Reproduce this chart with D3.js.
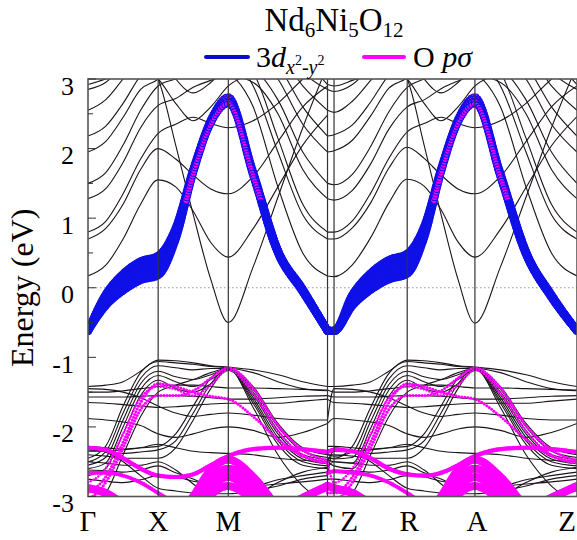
<!DOCTYPE html>
<html>
<head>
<meta charset="utf-8">
<script src="https://cdn.jsdelivr.net/npm/d3@7"></script>
<style>
  body { margin: 0; background: #fff; }
  svg { display: block; }
</style>
</head>
<body>
<div id="chart"></div>
<script>
// ---- k-path -------------------------------------------------------------
var symLabels = ["Γ", "X", "M", "Γ", "Z", "R", "A", "Z"];
var symK = [0, 1, 2, 3.414, 3.507, 4.55, 5.515, 6.97];
// sample points: Γ-X-M-Γ and Γ-Z-R-A-Z
var kPathA = [0, 0.25, 0.5, 0.75, 1, 1.25, 1.5, 1.75, 2, 2.354, 2.707, 3.061, 3.414];
var kPathB = [3.414, 3.507, 3.768, 4.029, 4.289, 4.55, 4.791, 5.033, 5.274, 5.515, 5.879, 6.243, 6.606, 6.97];

var eTicks = [-3, -2, -1, 0, 1, 2, 3];
var eMinor = [-2.5, -1.5, -0.5, 0.5, 1.5, 2.5];

// ---- Ni 3d x2-y2 fat bands (eV) ------------------------------------------
var dxyA = [
  [-0.62, -0.10, 0.20, 0.38, 0.46, 0.86, 1.72, 2.43, 2.75, 1.68, 0.54, -0.02, -0.62],
  [-0.62, -0.14, 0.14, 0.31, 0.39, 0.82, 1.70, 2.41, 2.72, 1.66, 0.53, -0.03, -0.62],
  [-0.62, -0.18, 0.08, 0.25, 0.32, 0.78, 1.68, 2.39, 2.69, 1.64, 0.52, -0.04, -0.62],
  [-0.62, -0.22, 0.02, 0.18, 0.25, 0.74, 1.66, 2.37, 2.67, 1.62, 0.51, -0.05, -0.62],
  [-0.62, -0.26, -0.04, 0.11, 0.18, 0.70, 1.64, 2.35, 2.64, 1.60, 0.50, -0.06, -0.62]
];
var dxyB = [
  [-0.62, -0.62, -0.10, 0.21, 0.40, 0.49, 0.88, 1.73, 2.44, 2.75, 1.66, 0.52, -0.10, -0.62],
  [-0.62, -0.62, -0.14, 0.15, 0.33, 0.42, 0.84, 1.71, 2.42, 2.72, 1.64, 0.51, -0.11, -0.62],
  [-0.62, -0.62, -0.18, 0.09, 0.26, 0.35, 0.80, 1.69, 2.40, 2.69, 1.62, 0.50, -0.12, -0.62],
  [-0.62, -0.62, -0.22, 0.03, 0.19, 0.28, 0.76, 1.67, 2.38, 2.67, 1.60, 0.49, -0.13, -0.62],
  [-0.62, -0.62, -0.26, -0.03, 0.12, 0.20, 0.72, 1.65, 2.36, 2.64, 1.58, 0.48, -0.14, -0.62]
];

// ---- O p-sigma fat bands and their weights --------------------------------
var opA = [
  [-2.95, -2.72, -2.22, -1.65, -1.38, -1.42, -1.50, -1.56, -1.60, -1.85, -2.18, -2.42, -2.52],
  [-3.05, -2.80, -2.30, -1.75, -1.55, -1.55, -1.48, -1.30, -1.15, -1.44, -1.98, -2.33, -2.48],
  [-2.30, -2.33, -2.45, -2.60, -2.70, -2.72, -2.68, -2.55, -2.42, -2.32, -2.30, -2.32, -2.36],
  [-2.66, -2.66, -2.70, -2.80, -2.95, -3.10, -3.20, -3.30, -3.30, -3.30, -3.20, -3.00, -2.90],
  [-2.88, -2.95, -3.10, -3.20, -3.30, -3.30, -3.30, -3.30, -3.30, -3.30, -3.20, -3.02, -2.85],
  [-3.50, -3.50, -3.50, -3.50, -3.40, -3.30, -3.00, -2.62, -2.47, -2.72, -3.15, -3.40, -3.50],
  [-3.50, -3.50, -3.50, -3.50, -3.45, -3.35, -3.15, -2.76, -2.60, -2.85, -3.25, -3.45, -3.50],
  [-3.50, -3.50, -3.50, -3.50, -3.50, -3.45, -3.30, -2.88, -2.72, -2.96, -3.35, -3.50, -3.50],
  [-3.50, -3.50, -3.50, -3.50, -3.50, -3.50, -3.40, -2.98, -2.85, -3.06, -3.45, -3.50, -3.50],
  [-2.80, -2.60, -2.10, -1.58, -1.42, -1.46, -1.55, -1.40, -1.18, -1.52, -2.06, -2.40, -2.50]
];
var opB = [
  [-2.95, -2.95, -2.72, -2.22, -1.65, -1.38, -1.42, -1.50, -1.56, -1.60, -1.85, -2.18, -2.42, -2.52],
  [-3.05, -3.05, -2.80, -2.30, -1.75, -1.55, -1.55, -1.48, -1.30, -1.15, -1.44, -1.98, -2.33, -2.48],
  [-2.36, -2.33, -2.35, -2.45, -2.60, -2.68, -2.70, -2.66, -2.55, -2.42, -2.32, -2.30, -2.32, -2.36],
  [-2.66, -2.64, -2.66, -2.70, -2.80, -2.95, -3.10, -3.20, -3.30, -3.30, -3.30, -3.20, -3.00, -2.90],
  [-2.85, -2.88, -2.95, -3.10, -3.20, -3.30, -3.30, -3.30, -3.30, -3.30, -3.30, -3.20, -3.02, -2.85],
  [-3.50, -3.50, -3.50, -3.50, -3.50, -3.40, -3.30, -3.00, -2.62, -2.47, -2.72, -3.15, -3.40, -3.50],
  [-3.50, -3.50, -3.50, -3.50, -3.50, -3.45, -3.35, -3.15, -2.76, -2.60, -2.85, -3.25, -3.45, -3.50],
  [-3.50, -3.50, -3.50, -3.50, -3.50, -3.50, -3.45, -3.30, -2.88, -2.72, -2.96, -3.35, -3.50, -3.50],
  [-3.50, -3.50, -3.50, -3.50, -3.50, -3.50, -3.50, -3.40, -2.98, -2.85, -3.06, -3.45, -3.50, -3.50],
  [-2.50, -2.80, -2.60, -2.10, -1.58, -1.42, -1.46, -1.55, -1.40, -1.18, -1.52, -2.06, -2.40, -2.50]
];
var opWeight = [0.36, 0.36, 0.55, 0.5, 1.0, 0.95, 0.95, 0.95, 0.95, 0.3];

// ---- other bands, above E_F ---------------------------------------------
var upperA = [
  [0.17, 0.32, 0.70, 1.20, 1.55, 1.45, 1.10, 0.65, 0.44, 0.85, 1.45, 2.05, 2.48],
  [3.60, 3.60, 3.50, 3.30, 3.00, 2.05, 1.05, 0.12, -0.50, 0.30, 1.30, 2.30, 3.20],
  [0.70, 0.85, 1.20, 1.70, 2.00, 1.85, 1.62, 1.42, 1.35, 1.60, 2.10, 2.60, 2.90],
  [0.80, 0.95, 1.35, 1.85, 2.22, 2.35, 2.45, 2.36, 2.30, 2.40, 2.65, 3.00, 3.30],
  [3.30, 3.50, 3.60, 3.60, 3.50, 3.50, 3.40, 3.20, 3.10, 2.60, 1.45, 0.50, 0.17],
  [3.50, 3.60, 3.60, 3.60, 3.60, 3.60, 3.40, 3.30, 3.30, 2.90, 1.95, 1.05, 0.70],
  [3.50, 3.60, 3.60, 3.60, 3.60, 3.60, 3.50, 3.40, 3.40, 3.10, 2.15, 1.20, 0.80],
  [1.28, 1.42, 1.80, 2.30, 2.62, 2.72, 2.88, 2.98, 3.05, 2.95, 2.50, 1.70, 1.28],
  [1.50, 1.65, 2.05, 2.55, 2.90, 3.00, 3.10, 3.20, 3.25, 3.15, 2.70, 1.95, 1.50],
  [1.95, 2.10, 2.45, 2.85, 3.00, 3.30, 3.50, 3.50, 3.50, 3.40, 3.00, 2.35, 1.95],
  [2.18, 2.32, 2.65, 3.05, 3.30, 3.50, 3.50, 3.50, 3.50, 3.50, 3.20, 2.60, 2.18],
  [2.55, 2.70, 3.00, 3.30, 3.50, 3.50, 3.50, 3.50, 3.50, 3.50, 3.40, 2.90, 2.55],
  [2.85, 2.95, 3.20, 3.50, 3.60, 3.60, 3.60, 3.60, 3.60, 3.60, 3.60, 3.10, 2.85],
  [2.92, 3.00, 3.10, 3.30, 3.40, 3.00, 2.80, 2.95, 3.20, 3.40, 3.60, 3.30, 2.92],
  [3.40, 3.40, 3.30, 3.15, 3.00, 2.65, 2.40, 2.60, 2.90, 3.10, 3.40, 3.50, 3.50]
];
var upperB = [
  [0.17, 0.16, 0.33, 0.72, 1.22, 1.56, 1.46, 1.12, 0.66, 0.44, 0.84, 1.44, 2.04, 2.46],
  [3.20, 3.25, 3.60, 3.50, 3.30, 3.00, 2.05, 1.05, 0.12, -0.51, 0.30, 1.30, 2.30, 3.20],
  [0.70, 0.70, 0.86, 1.22, 1.72, 2.02, 1.86, 1.62, 1.42, 1.35, 1.60, 2.10, 2.60, 2.90],
  [0.80, 0.80, 0.96, 1.36, 1.86, 2.24, 2.36, 2.45, 2.36, 2.30, 2.40, 2.65, 3.00, 3.30],
  [3.30, 3.30, 3.50, 3.60, 3.60, 3.50, 3.50, 3.40, 3.20, 3.10, 2.60, 1.45, 0.50, 0.17],
  [3.50, 3.50, 3.60, 3.60, 3.60, 3.60, 3.60, 3.40, 3.30, 3.30, 2.90, 1.95, 1.05, 0.70],
  [3.50, 3.50, 3.60, 3.60, 3.60, 3.60, 3.60, 3.50, 3.40, 3.40, 3.10, 2.15, 1.20, 0.80],
  [1.28, 1.26, 1.40, 1.78, 2.28, 2.60, 2.70, 2.86, 2.97, 3.05, 2.95, 2.50, 1.70, 1.28],
  [1.50, 1.48, 1.63, 2.03, 2.53, 2.88, 3.00, 3.10, 3.20, 3.25, 3.15, 2.70, 1.95, 1.50],
  [1.95, 1.97, 2.12, 2.47, 2.87, 3.02, 3.30, 3.50, 3.50, 3.50, 3.40, 3.00, 2.35, 1.95],
  [2.18, 2.20, 2.34, 2.67, 3.06, 3.30, 3.50, 3.50, 3.50, 3.50, 3.50, 3.20, 2.60, 2.18],
  [2.55, 2.52, 2.68, 2.98, 3.28, 3.50, 3.50, 3.50, 3.50, 3.50, 3.50, 3.40, 2.90, 2.55],
  [2.85, 2.82, 2.92, 3.18, 3.50, 3.60, 3.60, 3.60, 3.60, 3.60, 3.60, 3.60, 3.10, 2.85],
  [2.92, 2.90, 2.98, 3.08, 3.28, 3.38, 3.00, 2.80, 2.95, 3.20, 3.40, 3.60, 3.30, 2.92],
  [3.50, 3.45, 3.40, 3.30, 3.15, 3.00, 2.65, 2.40, 2.60, 2.90, 3.10, 3.40, 3.50, 3.50]
];

// ---- other bands, below E_F ---------------------------------------------
var lowerA = [
  [-1.42, -1.40, -1.35, -1.20, -1.04, -1.05, -1.08, -1.12, -1.14, -1.18, -1.25, -1.35, -1.42],
  [-2.45, -2.28, -1.70, -1.22, -1.06, -1.08, -1.10, -1.13, -1.15, -1.22, -1.35, -1.45, -1.48],
  [-2.50, -2.36, -1.80, -1.30, -1.12, -1.15, -1.18, -1.16, -1.16, -1.42, -1.95, -2.30, -2.40],
  [-2.55, -2.44, -1.90, -1.38, -1.20, -1.28, -1.32, -1.25, -1.17, -1.46, -2.00, -2.35, -2.44],
  [-2.60, -2.52, -2.00, -1.46, -1.26, -1.35, -1.42, -1.32, -1.18, -1.50, -2.05, -2.40, -2.47],
  [-2.70, -2.60, -2.10, -1.55, -1.33, -1.45, -1.50, -1.38, -1.19, -1.54, -2.10, -2.43, -2.50],
  [-2.28, -2.30, -2.32, -2.30, -2.28, -2.10, -1.70, -1.30, -1.15, -1.58, -2.15, -2.46, -2.53],
  [-2.33, -2.35, -2.38, -2.36, -2.33, -2.20, -1.80, -1.38, -1.16, -1.62, -2.20, -2.50, -2.56],
  [-2.40, -2.42, -2.45, -2.45, -2.45, -2.30, -1.90, -1.45, -1.17, -1.66, -2.25, -2.55, -2.60],
  [-1.50, -1.50, -1.48, -1.45, -1.42, -1.40, -1.40, -1.42, -1.44, -1.44, -1.45, -1.46, -1.47],
  [-1.57, -1.57, -1.57, -1.56, -1.55, -1.55, -1.56, -1.58, -1.60, -1.60, -1.58, -1.56, -1.55],
  [-1.65, -1.66, -1.68, -1.70, -1.72, -1.71, -1.69, -1.67, -1.66, -1.66, -1.66, -1.63, -1.60],
  [-1.88, -1.90, -1.93, -1.98, -2.10, -2.15, -2.10, -2.03, -2.00, -2.05, -2.15, -2.08, -1.95],
  [-2.35, -2.35, -2.33, -2.30, -2.25, -2.30, -2.35, -2.37, -2.38, -2.40, -2.45, -2.48, -2.50],
  [-2.50, -2.52, -2.55, -2.55, -2.50, -2.62, -2.82, -3.00, -3.10, -3.00, -2.80, -2.65, -2.58],
  [-2.62, -2.63, -2.65, -2.62, -2.56, -2.66, -2.75, -2.85, -2.90, -2.86, -2.76, -2.70, -2.65],
  [-2.75, -2.78, -2.80, -2.76, -2.70, -2.72, -2.78, -2.82, -2.85, -2.85, -2.82, -2.79, -2.75],
  [-2.30, -2.36, -2.50, -2.70, -2.88, -2.92, -2.95, -2.96, -2.96, -2.92, -2.85, -2.75, -2.70],
  [-1.45, -1.46, -1.50, -1.58, -1.70, -1.80, -1.85, -1.82, -1.80, -1.83, -1.88, -1.90, -1.90],
  [-3.10, -2.95, -2.40, -1.85, -1.50, -1.40, -1.32, -1.22, -1.16, -1.72, -2.40, -2.85, -3.10]
];
var lowerB = [
  [-1.42, -1.42, -1.40, -1.35, -1.20, -1.04, -1.05, -1.08, -1.12, -1.14, -1.18, -1.25, -1.35, -1.42],
  [-2.45, -2.45, -2.28, -1.72, -1.23, -1.06, -1.08, -1.10, -1.13, -1.15, -1.22, -1.35, -1.45, -1.48],
  [-2.40, -2.42, -2.36, -1.82, -1.31, -1.12, -1.15, -1.18, -1.16, -1.16, -1.42, -1.95, -2.30, -2.40],
  [-2.44, -2.46, -2.44, -1.92, -1.39, -1.20, -1.28, -1.32, -1.25, -1.17, -1.46, -2.00, -2.35, -2.44],
  [-2.47, -2.50, -2.52, -2.02, -1.47, -1.26, -1.35, -1.42, -1.32, -1.18, -1.50, -2.05, -2.40, -2.47],
  [-2.50, -2.56, -2.60, -2.12, -1.56, -1.33, -1.45, -1.50, -1.38, -1.19, -1.54, -2.10, -2.43, -2.50],
  [-2.28, -2.28, -2.30, -2.32, -2.30, -2.28, -2.10, -1.70, -1.30, -1.15, -1.58, -2.15, -2.46, -2.53],
  [-2.33, -2.33, -2.35, -2.38, -2.36, -2.33, -2.20, -1.80, -1.38, -1.16, -1.62, -2.20, -2.50, -2.56],
  [-2.40, -2.40, -2.42, -2.45, -2.45, -2.45, -2.30, -1.90, -1.45, -1.17, -1.66, -2.25, -2.55, -2.60],
  [-1.47, -1.50, -1.50, -1.48, -1.45, -1.42, -1.40, -1.40, -1.42, -1.44, -1.44, -1.45, -1.46, -1.47],
  [-1.55, -1.57, -1.57, -1.57, -1.56, -1.55, -1.55, -1.56, -1.58, -1.60, -1.60, -1.58, -1.56, -1.55],
  [-1.60, -1.65, -1.66, -1.68, -1.70, -1.72, -1.71, -1.69, -1.67, -1.66, -1.66, -1.66, -1.63, -1.60],
  [-1.95, -1.88, -1.90, -1.93, -1.98, -2.10, -2.15, -2.10, -2.03, -2.00, -2.05, -2.15, -2.08, -1.95],
  [-2.50, -2.35, -2.35, -2.33, -2.30, -2.25, -2.30, -2.35, -2.37, -2.38, -2.40, -2.45, -2.48, -2.50],
  [-2.58, -2.50, -2.52, -2.55, -2.55, -2.50, -2.62, -2.82, -3.00, -3.10, -3.00, -2.80, -2.65, -2.58],
  [-2.65, -2.62, -2.63, -2.65, -2.62, -2.56, -2.66, -2.75, -2.85, -2.90, -2.86, -2.76, -2.70, -2.65],
  [-2.75, -2.75, -2.78, -2.80, -2.76, -2.70, -2.72, -2.78, -2.82, -2.85, -2.85, -2.82, -2.79, -2.75],
  [-2.70, -2.30, -2.36, -2.50, -2.70, -2.88, -2.92, -2.95, -2.96, -2.96, -2.92, -2.85, -2.75, -2.70],
  [-1.90, -1.45, -1.46, -1.50, -1.58, -1.70, -1.80, -1.85, -1.82, -1.80, -1.83, -1.88, -1.90, -1.90],
  [-3.10, -3.10, -2.95, -2.40, -1.85, -1.50, -1.40, -1.32, -1.22, -1.16, -1.72, -2.40, -2.85, -3.10]
];

// ---- layout --------------------------------------------------------------
var width = 577, height = 540;
var plotLeft = 88, plotRight = 577, plotTop = 79, plotBottom = 496.5;
var blue = "#1010e8", magenta = "#ff00ff";
var serif = "Liberation Serif";

var x = d3.scaleLinear().domain([0, 6.97]).range([plotLeft, plotRight]);
var y = d3.scaleLinear().domain([-3, 3]).range([plotBottom, plotTop]);

var svg = d3.select("#chart").append("svg")
  .attr("width", width)
  .attr("height", height)
  .style("font-family", "'Liberation Serif', serif");

svg.append("defs").append("clipPath").attr("id", "plotClip")
  .append("rect")
  .attr("x", plotLeft).attr("y", plotTop)
  .attr("width", plotRight - plotLeft).attr("height", plotBottom - plotTop);

var plot = svg.append("g").attr("clip-path", "url(#plotClip)");

// Fermi level
plot.append("line")
  .attr("x1", x(0)).attr("x2", x(6.97))
  .attr("y1", y(0)).attr("y2", y(0))
  .attr("stroke", "#9a9a9a")
  .attr("stroke-width", 1)
  .attr("stroke-dasharray", "1.5,2.5");

var line = d3.line()
  .x(function(d) { return x(d[0]); })
  .y(function(d) { return y(d[1]); })
  .curve(d3.curveMonotoneX);

function pairs(k, e) { return k.map(function(kk, i) { return [kk, e[i]]; }); }

function drawBands(bands, k) {
  plot.append("g").selectAll("path")
    .data(bands)
    .enter().append("path")
    .attr("d", function(d) { return line(pairs(k, d)); })
    .attr("fill", "none")
    .attr("stroke", "#1c141c")
    .attr("stroke-width", 1.1);
}

// points every few pixels along a band, for the fat-band circles
function samplePath(k, e, step) {
  var p = plot.append("path").attr("d", line(pairs(k, e)));
  var node = p.node(), len = node.getTotalLength();
  var pts = d3.range(0, len, step).map(function(s) { return node.getPointAtLength(s); });
  p.remove();
  return pts;
}

drawBands(upperA, kPathA);
drawBands(upperB, kPathB);
drawBands(lowerA, kPathA);
drawBands(lowerB, kPathB);

// O p-sigma weights
var rW = d3.scaleLinear().domain([0, 1]).range([0, 4.2]);
var gOp = plot.append("g");
[[opA, kPathA], [opB, kPathB]].forEach(function(set) {
  set[0].forEach(function(e, i) {
    var pts = samplePath(set[1], e, opWeight[i] < 0.4 ? 3 : 2.4);
    gOp.append("g").selectAll("circle")
      .data(pts)
      .enter().append("circle")
      .attr("cx", function(d) { return d.x; })
      .attr("cy", function(d) { return d.y; })
      .attr("r", rW(opWeight[i]))
      .attr("fill", magenta);
  });
});

// Ni dx2-y2 weights
drawBands(dxyA, kPathA);
drawBands(dxyB, kPathB);
var rE = d3.scaleLinear().domain([0.6, 2.8]).range([3.6, 2.6]).clamp(true);
var gD = plot.append("g");
[[dxyA, kPathA], [dxyB, kPathB]].forEach(function(set) {
  set[0].forEach(function(e) {
    var pts = samplePath(set[1], e, 2.8);
    gD.append("g").selectAll("circle")
      .data(pts)
      .enter().append("circle")
      .attr("cx", function(d) { return d.x; })
      .attr("cy", function(d) { return d.y; })
      .attr("r", function(d) { return rE(y.invert(d.y)); })
      .attr("fill", function(d) { return y.invert(d.y) > 1.25 ? magenta : blue; })
      .attr("stroke", blue)
      .attr("stroke-width", 1.1);
  });
});

// high-symmetry lines
svg.append("g").selectAll("line")
  .data(symK.slice(1, 7))
  .enter().append("line")
  .attr("x1", function(d) { return x(d); }).attr("x2", function(d) { return x(d); })
  .attr("y1", plotTop).attr("y2", plotBottom)
  .attr("stroke", "#333")
  .attr("stroke-width", 1.2);

// frame
svg.append("rect")
  .attr("x", plotLeft).attr("y", plotTop)
  .attr("width", plotRight - plotLeft).attr("height", plotBottom - plotTop)
  .attr("fill", "none")
  .attr("stroke", "#555")
  .attr("stroke-width", 1.6);

// y ticks (inward)
svg.append("g").selectAll("line.major")
  .data(eTicks)
  .enter().append("line")
  .attr("x1", plotLeft).attr("x2", plotLeft + 8)
  .attr("y1", function(d) { return y(d); }).attr("y2", function(d) { return y(d); })
  .attr("stroke", "#333");
svg.append("g").selectAll("line.minor")
  .data(eMinor)
  .enter().append("line")
  .attr("x1", plotLeft).attr("x2", plotLeft + 5)
  .attr("y1", function(d) { return y(d); }).attr("y2", function(d) { return y(d); })
  .attr("stroke", "#333");

svg.append("g").selectAll("text")
  .data(eTicks)
  .enter().append("text")
  .attr("x", 74)
  .attr("y", function(d) { return y(d) + 15.5; })
  .attr("text-anchor", "end")
  .style("font-family", serif)
  .attr("font-size", 26)
  .text(function(d) { return d; });

// k labels
var labelShift = [0, 0, 0, -3, 15, 2, 2, -10];
svg.append("g").selectAll("text")
  .data(symLabels)
  .enter().append("text")
  .attr("x", function(d, i) { return x(symK[i]) + labelShift[i]; })
  .attr("y", 531)
  .attr("text-anchor", "middle")
  .style("font-family", serif)
  .attr("font-size", 29)
  .text(function(d) { return d; });

// y label
svg.append("text")
  .attr("transform", "translate(33," + y(0) + ") rotate(-90)")
  .attr("text-anchor", "middle")
  .style("font-family", serif)
  .attr("font-size", 32)
  .text("Energy (eV)");

// title
var title = svg.append("text")
  .attr("x", 334).attr("y", 31)
  .attr("text-anchor", "middle")
  .style("font-family", serif)
  .attr("font-size", 33);
title.append("tspan").text("Nd");
title.append("tspan").attr("font-size", 21).attr("dy", 6).text("6");
title.append("tspan").attr("dy", -6).text("Ni");
title.append("tspan").attr("font-size", 21).attr("dy", 6).text("5");
title.append("tspan").attr("dy", -6).text("O");
title.append("tspan").attr("font-size", 21).attr("dy", 6).text("12");

// legend
var legY = 57;
svg.append("line")
  .attr("x1", 206).attr("x2", 248).attr("y1", legY).attr("y2", legY)
  .attr("stroke", "#0a0ad0").attr("stroke-width", 4).attr("stroke-linecap", "round");
var t1 = svg.append("text").attr("x", 256).attr("y", legY + 10)
  .style("font-family", serif).attr("font-size", 30);
t1.append("tspan").text("3");
t1.append("tspan").attr("font-style", "italic").text("d");
t1.append("tspan").attr("font-style", "italic").attr("font-size", 20).attr("dy", 7).text("x");
t1.append("tspan").attr("font-size", 14).attr("dy", -9).text("2");
t1.append("tspan").attr("font-size", 20).attr("dy", 9).text("-");
t1.append("tspan").attr("font-style", "italic").attr("font-size", 20).text("y");
t1.append("tspan").attr("font-size", 14).attr("dy", -9).text("2");

svg.append("line")
  .attr("x1", 364).attr("x2", 404).attr("y1", legY).attr("y2", legY)
  .attr("stroke", magenta).attr("stroke-width", 4).attr("stroke-linecap", "round");
var t2 = svg.append("text").attr("x", 413).attr("y", legY + 10)
  .style("font-family", serif).attr("font-size", 30);
t2.append("tspan").text("O ");
t2.append("tspan").attr("font-style", "italic").text("pσ");
</script>
</body>
</html>
